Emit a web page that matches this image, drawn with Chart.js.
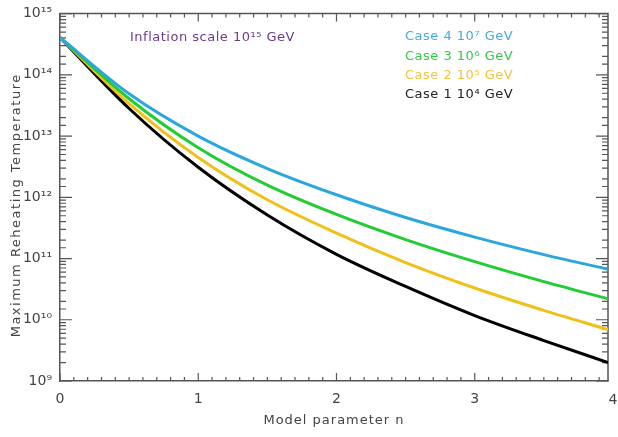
<!DOCTYPE html>
<html><head><meta charset="utf-8">
<script src="https://cdn.jsdelivr.net/npm/chart.js@4/dist/chart.umd.min.js"></script>
<style>html,body{margin:0;padding:0;background:#fff}</style>
</head><body>
<canvas id="c" width="618" height="437"></canvas>
<script>
// Model parameter n
const nValues = [0, 0.5, 1, 1.5, 2, 2.5, 3, 3.5, 3.964];
// Maximum reheating temperature (GeV) for each case
const case4 = [4.07e14, 4.9e13, 1.0e13, 2.95e12, 1.10e12, 4.68e11, 2.24e11, 1.16e11, 6.7e10];
const case3 = [4.07e14, 4.07e13, 6.46e12, 1.58e12, 5.25e11, 2.04e11, 8.9e10, 4.2e10, 2.2e10];
const case2 = [4.07e14, 3.39e13, 4.47e12, 9.1e11, 2.6e11, 8.6e10, 3.3e10, 1.42e10, 6.9e9];
const case1 = [4.07e14, 2.82e13, 3.09e12, 5.13e11, 1.17e11, 3.5e10, 1.17e10, 4.57e9, 2.0e9];
const seriesLabels = ['Case 4 10\u2077 GeV', 'Case 3 10\u2076 GeV', 'Case 2 10\u2075 GeV', 'Case 1 10\u2074 GeV'];
const seriesColors = ['#2aa7dd', '#22cc33', '#f0c018', '#000000'];
const legendColors = ['#4aa8dc', '#33c844', '#f2c43a', '#222222'];
const yTickLabels = {9:'10\u2079', 10:'10\u00b9\u2070', 11:'10\u00b9\u00b9', 12:'10\u00b9\u00b2', 13:'10\u00b9\u00b3', 14:'10\u00b9\u2074', 15:'10\u00b9\u2075'};
const xTickLabels = ['0', '1', '2', '3', '4'];
const noteText = 'Inflation scale 10\u00b9\u2075 GeV';
const xTitle = 'Model parameter n';
const yTitle = 'Maximum Reheating Temperature';

const allSeries = [case4, case3, case2, case1];
const datasets = allSeries.map((s, i) => ({
  label: seriesLabels[i],
  data: nValues.map((n, j) => ({x: n, y: s[j]})),
  borderColor: seriesColors[i],
  borderWidth: 3,
  pointRadius: 0,
  fill: false,
  cubicInterpolationMode: 'monotone'
}));

const FONT = '"DejaVu Sans", sans-serif';
const axisColor = '#555';
const textColor = '#444';

const decor = {
  id: 'decor',
  beforeDatasetsDraw(chart) {
    const {ctx, chartArea: a, scales: {x, y}} = chart;
    ctx.save();
    ctx.strokeStyle = axisColor;
    ctx.lineWidth = 1.5;
    ctx.beginPath();
    ctx.moveTo(a.left, a.top); ctx.lineTo(a.right, a.top); ctx.lineTo(a.right, a.bottom);
    ctx.stroke();
    ctx.lineWidth = 1.2;
    ctx.beginPath();
    for (let k = 0; k <= 40; k++) {
      const v = k / 10;
      if (v > x.max + 1e-9) break;
      const px = x.getPixelForValue(v);
      const L = (k % 10 === 0) ? 8 : 4;
      ctx.moveTo(px, a.bottom); ctx.lineTo(px, a.bottom - L);
      ctx.moveTo(px, a.top); ctx.lineTo(px, a.top + L);
    }
    y.ticks.forEach(t => {
      const lg = Math.log10(t.value);
      const major = Math.abs(lg - Math.round(lg)) < 1e-6;
      const py = y.getPixelForValue(t.value);
      const L = major ? 12 : 6;
      ctx.moveTo(a.left, py); ctx.lineTo(a.left + L, py);
      ctx.moveTo(a.right, py); ctx.lineTo(a.right - L, py);
    });
    ctx.stroke();
    ctx.restore();
  },
  afterDraw(chart) {
    const {ctx, chartArea: a, scales: {x, y}} = chart;
    ctx.save();
    ctx.fillStyle = textColor;
    ctx.font = '14px ' + FONT;
    ctx.textAlign = 'center';
    ctx.textBaseline = 'top';
    const last = xTickLabels.length - 1;
    if (last > x.max) ctx.fillText(xTickLabels[last], x.getPixelForValue(last), a.bottom + 12);
    ctx.letterSpacing = '1px';
    ctx.font = '13px ' + FONT;
    ctx.textBaseline = 'middle';
    ctx.fillText(xTitle, (a.left + a.right) / 2, 421);
    ctx.save();
    ctx.translate(17, (a.top + a.bottom) / 2 + 8);
    ctx.rotate(-Math.PI / 2);
    ctx.letterSpacing = '1.5px';
    ctx.fillText(yTitle, 0, 0);
    ctx.restore();
    ctx.textAlign = 'left';
    ctx.font = '13px ' + FONT;
    ctx.letterSpacing = '0.5px';
    ctx.fillStyle = '#6b3b8c';
    ctx.fillText(noteText, 130, 38);
    const ys = [37, 56.5, 76, 95];
    seriesLabels.forEach((s, i) => {
      ctx.fillStyle = legendColors[i];
      ctx.fillText(s, 405, ys[i]);
    });
    ctx.restore();
  }
};

new Chart(document.getElementById('c'), {
  type: 'line',
  data: {datasets},
  plugins: [decor],
  options: {
    responsive: false,
    animation: false,
    devicePixelRatio: 1,
    layout: {padding: {left: 0, right: 1, top: 5, bottom: 0}},
    plugins: {legend: {display: false}, tooltip: {enabled: false}},
    scales: {
      x: {
        type: 'linear', min: 0, max: 3.964,
        grid: {display: false, drawTicks: false},
        border: {display: true, color: axisColor, width: 1.5},
        ticks: {stepSize: 1, color: textColor, font: {size: 14, family: FONT}, padding: 10,
                callback: v => xTickLabels[v] !== undefined ? xTickLabels[v] : ''},
        afterFit(s) { s.height = 56; }
      },
      y: {
        type: 'logarithmic', min: 1e9, max: 1e15,
        grid: {display: false, drawTicks: false},
        border: {display: true, color: axisColor, width: 1.5},
        ticks: {autoSkip: false, color: textColor, font: {size: 14, family: FONT, lineHeight: 0.8}, padding: 8,
                callback: v => { const l = Math.log10(v); const r = Math.round(l);
                  return Math.abs(l - r) < 1e-6 ? (yTickLabels[r] || '') : ''; }},
        afterFit(s) { s.width = 60; }
      }
    }
  }
});
</script>
</body></html>
